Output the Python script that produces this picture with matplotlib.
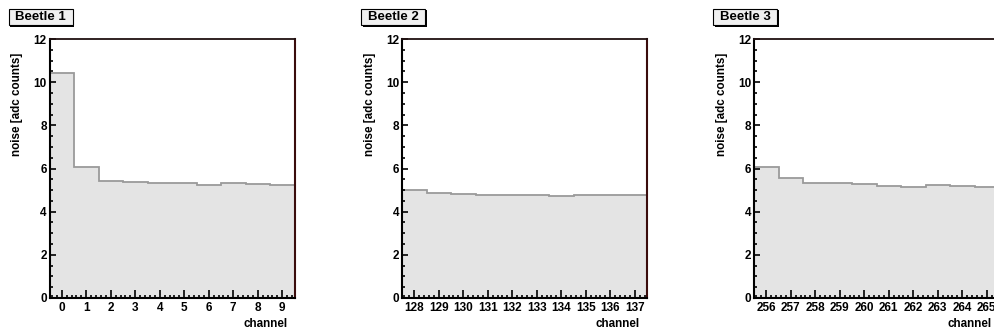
import numpy as np
import matplotlib.pyplot as plt
from matplotlib.ticker import MultipleLocator
from matplotlib.patches import Rectangle

plt.rcParams['font.family'] = ['Liberation Sans', 'DejaVu Sans']
plt.rcParams['font.weight'] = 'bold'

titles = ['Beetle 1', 'Beetle 2', 'Beetle 3']
first_channel = [0, 128, 256]

noise1 = [10.44, 6.08, 5.43, 5.38, 5.34, 5.31, 5.25, 5.31, 5.29, 5.23]
noise2 = [5.00, 4.86, 4.80, 4.75, 4.75, 4.75, 4.72, 4.75, 4.79, 4.77]
noise3 = [6.09, 5.56, 5.35, 5.31, 5.26, 5.20, 5.15, 5.23, 5.20, 5.14]
noises = [noise1, noise2, noise3]

W, H = 994, 333
fig = plt.figure(figsize=(W / 100, H / 100), dpi=100)

lefts = [49.5, 402, 754]
ax_w, ax_top, ax_bot = 245, 39, 298

for i in range(3):
    x0 = lefts[i]
    ax = fig.add_axes([x0 / W, 1 - ax_bot / H, ax_w / W, (ax_bot - ax_top) / H])
    ch = np.arange(len(noises[i])) + first_channel[i]
    edges = np.append(ch - 0.5, ch[-1] + 0.5)
    vals = np.array(noises[i])
    ax.stairs(vals, edges, fill=True, color='#e4e4e4', lw=0)
    ax.stairs(vals, edges, baseline=None, color='#9a9a9a', lw=1.3)
    ax.set_xlim(edges[0], edges[-1])
    ax.set_ylim(0, 12)

    ax.xaxis.set_major_locator(MultipleLocator(1))
    ax.xaxis.set_minor_locator(MultipleLocator(0.2))
    ax.yaxis.set_major_locator(MultipleLocator(2))
    ax.yaxis.set_minor_locator(MultipleLocator(0.5))
    ax.tick_params(which='both', direction='in', top=False, right=False,
                   width=1.2, labelsize=8.5, pad=3)
    ax.tick_params(axis='y', which='major', length=4.5, pad=2)
    ax.tick_params(axis='y', which='minor', length=2.5)
    ax.tick_params(axis='x', which='major', length=5.5)
    ax.tick_params(axis='x', which='minor', length=2.5)
    for lab in ax.get_xticklabels() + ax.get_yticklabels():
        lab.set_fontweight('bold')

    for s in ['left', 'bottom']:
        ax.spines[s].set_linewidth(1.5)
        ax.spines[s].set_color('black')
    ax.spines['top'].set_linewidth(1.3)
    ax.spines['top'].set_color('#201010')
    ax.spines['right'].set_linewidth(1.5)
    ax.spines['right'].set_color('#3a0c0c')

    # y title, aligned to the top of the axis
    fig.text((x0 - 32) / W, 1 - 53 / H, 'noise [adc counts]', rotation=90,
             ha='center', va='top', fontsize=8.4, fontweight='bold')
    # x title, aligned to the right of the axis
    fig.text((x0 + ax_w - 7) / W, 1 - 324 / H, 'channel', ha='right',
             va='center', fontsize=8.4, fontweight='bold')

    # title box with shadow
    bx = x0 - 41
    bw = 64
    fig.patches.append(Rectangle(((bx + 1.5) / W, 1 - 26.5 / H), bw / W, 16 / H,
                                 transform=fig.transFigure,
                                 facecolor='black', edgecolor='black', lw=0))
    fig.patches.append(Rectangle((bx / W, 1 - 25 / H), bw / W, 16 / H,
                                 transform=fig.transFigure,
                                 facecolor='#f0f0f0', edgecolor='black', lw=0.8))
    fig.text((bx + bw / 2) / W, 1 - 17 / H, titles[i], ha='center', va='center',
             fontsize=9.5, fontweight='bold')

fig.savefig('out.png', dpi=100)
